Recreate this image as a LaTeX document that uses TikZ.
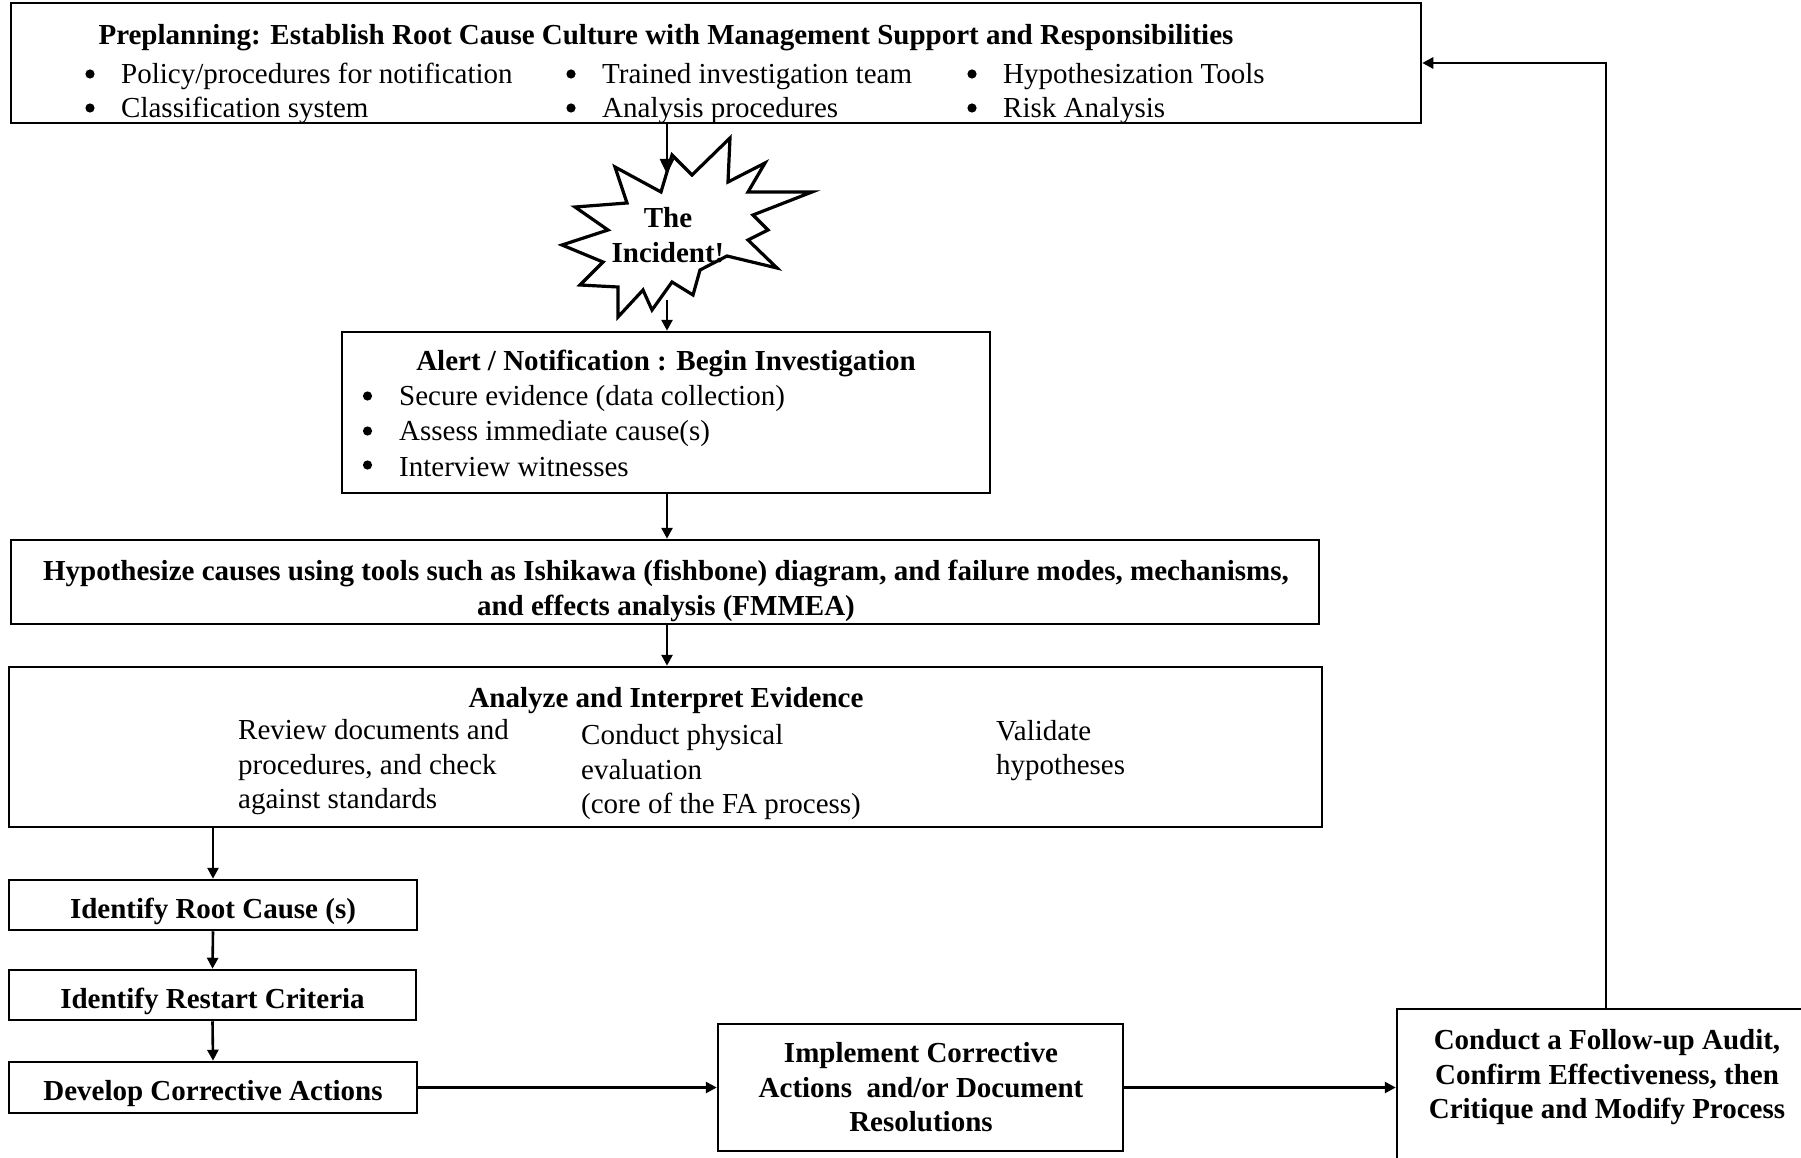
\documentclass[tikz,border=0pt]{standalone}
\usepackage{fontspec}
\setmainfont{Liberation Serif}
\usetikzlibrary{arrows.meta}
\newcommand{\fsz}{\fontsize{29}{34.5}\selectfont}
\begin{document}
\begin{tikzpicture}[x=1pt,y=-1pt,
  box/.style={draw, line width=2.5pt, inner sep=0pt},
  arr/.style={line width=2.6pt, -{Triangle[length=11pt,width=11pt]}},
  txt/.style={inner sep=0pt, font=\fsz, align=left},
  btxt/.style={inner sep=0pt, font=\fsz\bfseries, align=center},
  bdot/.style={fill=black}]
\useasboundingbox (0,0) rectangle (1801,1158);
\clip (0,0) rectangle (1801,1158);
\fill[white] (0,0) rectangle (1801,1158);

% top box
\node[box, minimum width=1410pt, minimum height=120pt] (top) at (716,63) {};
\node[btxt] (toptitle) at (666,37.5) {Preplanning: Establish Root Cause Culture with Management Support and Responsibilities};
\node[txt, anchor=west] (t1) at (121,76.5) {Policy/procedures for notification};
\node[txt, anchor=west] (t2) at (121,110.5) {Classification system};
\node[txt, anchor=west] (t3) at (602,76.5) {Trained investigation team};
\node[txt, anchor=west] (t4) at (602,110.5) {Analysis procedures};
\node[txt, anchor=west] (t5) at (1003,76.5) {Hypothesization Tools};
\node[txt, anchor=west] (t6) at (1003,110.5) {Risk Analysis};
\foreach \bx in {90,571,972}{
  \fill[bdot] (\bx,74) circle (4.6);
  \fill[bdot] (\bx,108) circle (4.6);
}

% star
\draw[line width=3.2pt, line join=miter, fill=white]
 (730,138) -- (692,175) -- (672,155) -- (661,192) -- (615,167) -- (627,203)
 -- (575,207) -- (608,230) -- (562,245) -- (603,262) -- (580,285) -- (618,287)
 -- (618,317) -- (643,290) -- (652,310) -- (672,282) -- (693,295) -- (700,270)
 -- (727,256) -- (777,268) -- (748,240) -- (768,230) -- (753,215) -- (812,192)
 -- (748,192) -- (765,163) -- (728,182) -- cycle;
\node[btxt] (star) at (668,235) {The\\Incident!};
\coordinate (starin) at (667,174);
\coordinate (starout) at (667,300);

% alert box
\node[box, minimum width=648pt, minimum height=161pt] (alert) at (666,412.5) {};
\node[btxt] (alerttitle) at (666,363.5) {Alert / Notification : Begin Investigation};
\node[txt, anchor=west] (a1) at (399,399) {Secure evidence (data collection)};
\node[txt, anchor=west] (a2) at (399,434) {Assess immediate cause(s)};
\node[txt, anchor=west] (a3) at (399,467) {Interview witnesses};
\foreach \by in {396,431,465}{ \fill[bdot] (367.5,\by) circle (4.6); }

% hypothesize
\node[box, minimum width=1308pt, minimum height=84pt] (hyp) at (665,582) {};
\node[btxt] (hyptxt) at (666,591)
 {Hypothesize causes using tools such as Ishikawa (fishbone) diagram, and failure modes, mechanisms,\\and effects analysis (FMMEA)};

% analyze
\node[box, minimum width=1313pt, minimum height=160pt] (ana) at (665.5,747) {};
\node[btxt] (anatitle) at (666,701) {Analyze and Interpret Evidence};
\node[txt, anchor=west] (c1) at (238,767.5) {Review documents and\\procedures, and check\\against standards};
\node[txt, anchor=west] (c2) at (581,772.5) {Conduct physical\\evaluation\\(core of the FA process)};
\node[txt, anchor=west] (c3) at (996,750.5) {Validate\\hypotheses};

% left column
\node[box, minimum width=408pt, minimum height=50pt] (root) at (213,905) {};
\node[btxt] (roottxt) at (213,911) {Identify Root Cause (s)};
\node[box, minimum width=407pt, minimum height=50pt] (restart) at (212.5,995) {};
\node[btxt] (restarttxt) at (212.5,1001) {Identify Restart Criteria};
\node[box, minimum width=408pt, minimum height=51pt] (dev) at (213,1087.5) {};
\node[btxt] (devtxt) at (213,1093.5) {Develop Corrective Actions};

% implement
\node[box, minimum width=405pt, minimum height=127pt] (imp) at (920.5,1087.5) {};
\node[btxt] (imptxt) at (921,1087.5)
 {Implement Corrective\\Actions\ \ and/or Document\\Resolutions};

% follow-up
\node[box, minimum width=418pt, minimum height=170pt] (fu) at (1606,1094) {};
\node[btxt] (futxt) at (1607,1077.5) {Conduct a Follow-up Audit,\\Confirm Effectiveness, then\\Critique and Modify Process};

% connectors
\draw[arr, -{Triangle[length=15pt,width=14pt]}] (top.south -| starin) -- (starin);
\draw[arr] (starout) -- (alert.north -| starout);
\draw[arr] (alert.south -| starout) -- (hyp.north -| starout);
\draw[arr] (hyp.south -| starout) -- (ana.north -| starout);
\draw[arr] (ana.south -| root) -- (root.north);
\draw[arr] (root.south) -- (restart.north);
\draw[arr] (restart.south) -- (dev.north);
\draw[arr] (dev.east) -- (dev.east -| imp.west);
\draw[arr] (imp.east |- dev.east) -- (dev.east -| fu.west);
\draw[arr] (fu.north) |- (top.east);
\end{tikzpicture}
\end{document}
